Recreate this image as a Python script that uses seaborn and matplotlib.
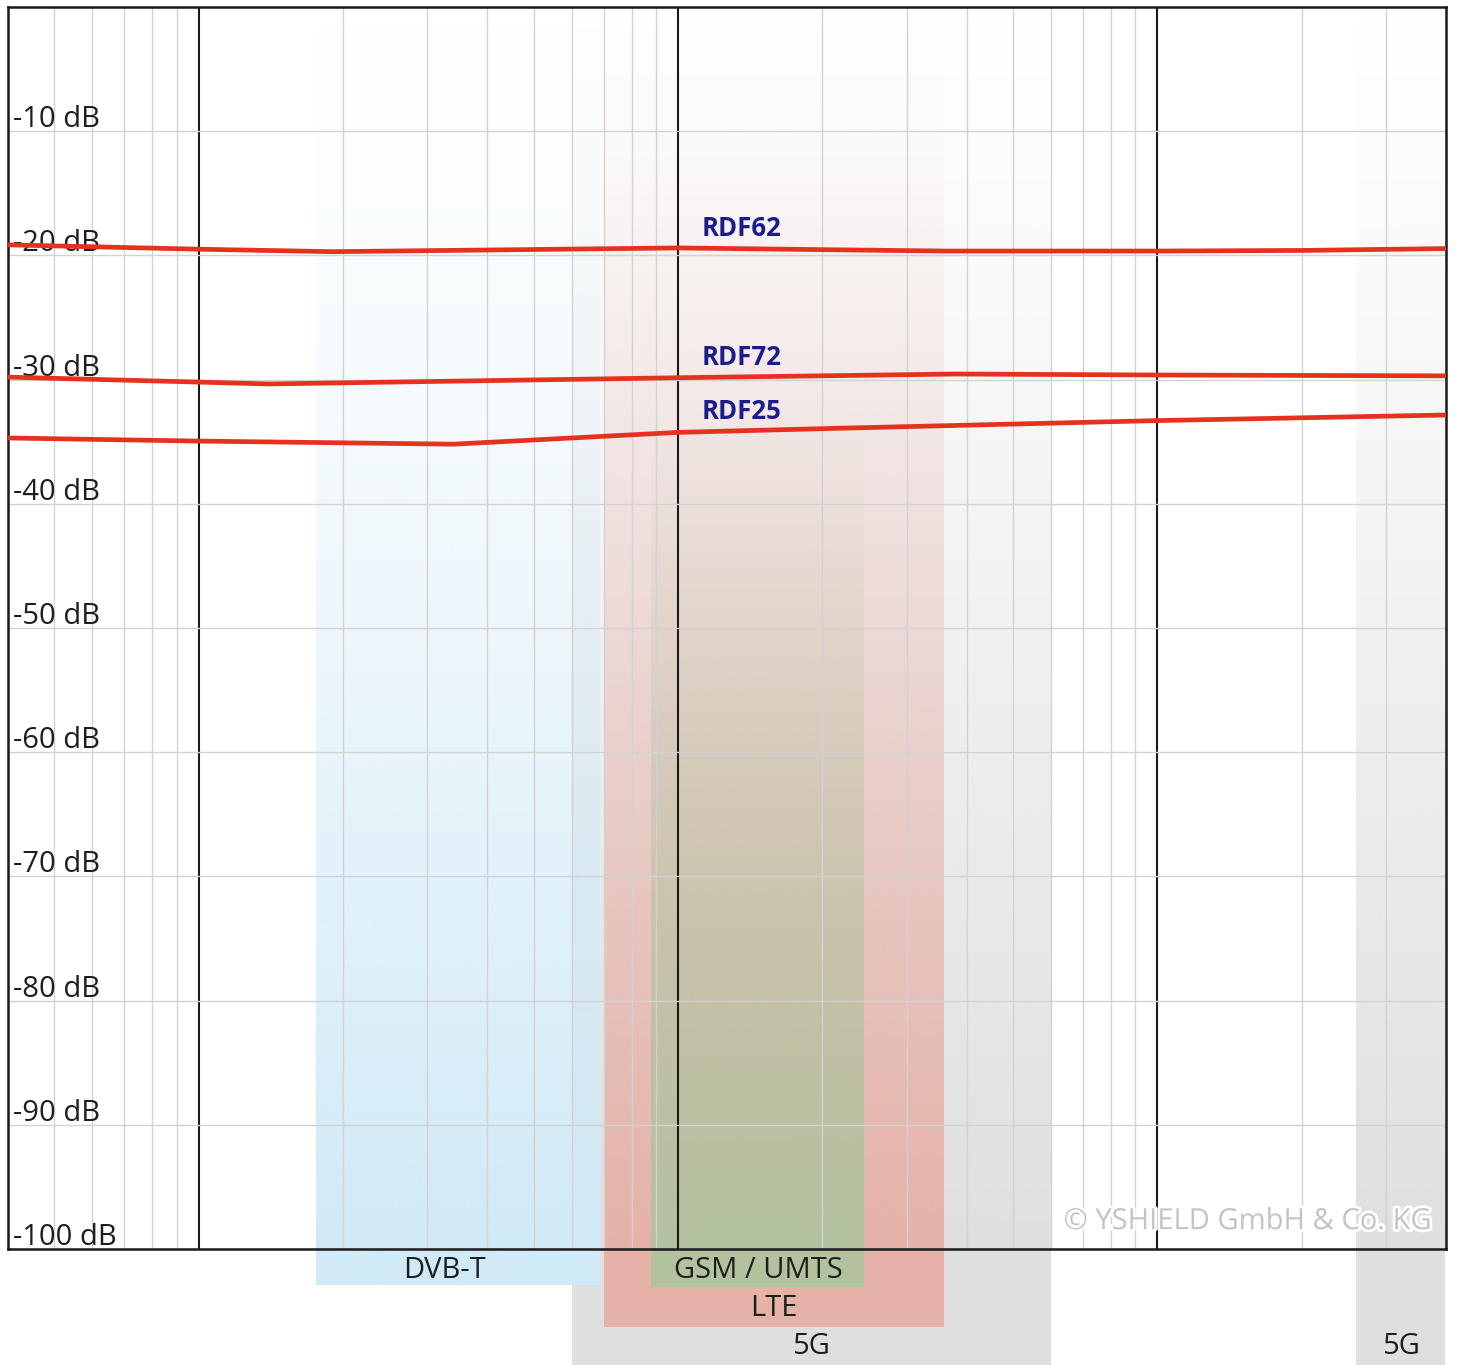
import numpy as np
import pandas as pd
import matplotlib
matplotlib.use("Agg")
import matplotlib.pyplot as plt
import matplotlib.transforms as mtransforms
import matplotlib.patheffects as pe
from matplotlib.colors import to_rgb
import seaborn as sns

# ---------------- data ----------------
series_names = ["RDF62", "RDF72", "RDF25"]
freq_rdf62_mhz = [40, 100, 190, 1000, 3600, 10000, 20000, 40000]
db_rdf62 = [-19.15, -19.5, -19.7, -19.4, -19.65, -19.65, -19.6, -19.45]
freq_rdf72_mhz = [40, 100, 140, 1000, 3800, 10000, 40000]
db_rdf72 = [-29.8, -30.2, -30.35, -29.85, -29.55, -29.63, -29.7]
freq_rdf25_mhz = [40, 100, 340, 1000, 2000, 10000, 40000]
db_rdf25 = [-34.7, -34.95, -35.2, -34.25, -33.95, -33.3, -32.85]

band_names = ["5G", "5G", "LTE", "GSM / UMTS", "DVB-T"]
band_lo_mhz = [600, 26000, 700, 880, 176]
band_hi_mhz = [6000, 40000, 3600, 2450, 690]

y_ticks_db = [-10, -20, -30, -40, -50, -60, -70, -80, -90, -100]
y_tick_labels = ["-10 dB", "-20 dB", "-30 dB", "-40 dB", "-50 dB",
                 "-60 dB", "-70 dB", "-80 dB", "-90 dB", "-100 dB"]
watermark = "\u00a9 YSHIELD GmbH & Co. KG"

# ---------------- styles / layout ----------------
band_colors = ["#dfdfdf", "#dfdfdf", "#e6b2a8", "#b2c29e", "#d0eaf7"]
band_fade_top_px = [8, 8, 8, 420, 8]            # where the vertical gradient starts
band_gamma = [1.2, 1.2, 1.4, 1.2, 1.35]
band_bottom_px = [1365, 1365, 1327, 1287, 1285]  # how far the band extends below the plot
band_label_y_px = [1347, 1347, 1308, 1270, 1270]
band_label_x_mhz = [None, None, None, None, 325]

W, H = 1467, 1365
AX_L, AX_R, AX_T, AX_B = 8, 1446, 7, 1249
F_MIN, F_MAX = 40, 40000
line_color = "#e5321f"
label_color = "#1b1b8c"
text_color = "#1e1e1e"

sns.set_style("white")
plt.rcParams["font.family"] = ["Open Sans", "DejaVu Sans"]

fig = plt.figure(figsize=(W / 100, H / 100), dpi=100)

# background axes (pixel y, log-frequency x aligned with main axes)
ax_bg = fig.add_axes([0, 0, 1, 1])
ax_bg.set_zorder(0)
ppd = (AX_R - AX_L) / (np.log10(F_MAX) - np.log10(F_MIN))
bg_xmin = 10 ** (np.log10(F_MIN) - AX_L / ppd)
bg_xmax = 10 ** (np.log10(F_MAX) + (W - AX_R) / ppd)
ax_bg.set_xscale("log")

for name, lo, hi, col, ftop, g, bot in zip(band_names, band_lo_mhz, band_hi_mhz,
                                           band_colors, band_fade_top_px, band_gamma,
                                           band_bottom_px):
    top = 8
    ys = np.arange(top, bot + 1)
    t = np.clip((ys - ftop) / (AX_B - ftop), 0, 1) ** g
    rgba = np.zeros((len(ys), 1, 4))
    rgba[:, 0, :3] = to_rgb(col)
    rgba[:, 0, 3] = t
    ax_bg.imshow(rgba, extent=(lo, hi, bot, top), origin="upper",
                 aspect="auto", interpolation="bilinear", zorder=1)

for name, lo, hi, ly, lx in zip(band_names, band_lo_mhz, band_hi_mhz,
                                band_label_y_px, band_label_x_mhz):
    cx = lx if lx is not None else np.sqrt(lo * hi)
    ax_bg.text(cx, ly, name, ha="center", va="center", fontsize=21,
               color=text_color, zorder=5)

ax_bg.set_xlim(bg_xmin, bg_xmax)
ax_bg.set_ylim(H, 0)
ax_bg.axis("off")

# main axes
ax = fig.add_axes([AX_L / W, (H - AX_B) / H, (AX_R - AX_L) / W, (AX_B - AX_T) / H])
ax.set_zorder(2)
ax.patch.set_alpha(0)

df = pd.concat([
    pd.DataFrame({"freq": freq_rdf62_mhz, "db": db_rdf62, "series": "RDF62"}),
    pd.DataFrame({"freq": freq_rdf72_mhz, "db": db_rdf72, "series": "RDF72"}),
    pd.DataFrame({"freq": freq_rdf25_mhz, "db": db_rdf25, "series": "RDF25"}),
], ignore_index=True)

ax.set_xscale("log")
sns.lineplot(data=df, x="freq", y="db", hue="series",
             palette={n: line_color for n in series_names},
             linewidth=3.4, legend=False, ax=ax, zorder=4)

ax.set_xlim(F_MIN, F_MAX)
ax.set_ylim(-100, 0)
ax.set_yticks(y_ticks_db)
ax.set_xlabel("")
ax.set_ylabel("")
ax.tick_params(which="both", length=0, labelbottom=False, labelleft=False)

ax.grid(True, which="major", axis="x", color="#1a1a1a", lw=1.5, zorder=1)
ax.grid(True, which="minor", axis="x", color="#d2d2d2", lw=1.0, zorder=1)
ax.grid(True, which="major", axis="y", color="#d2d2d2", lw=1.0, zorder=1)
ax.set_axisbelow(True)

for sp in ax.spines.values():
    sp.set_visible(True)
    sp.set_color("#1a1a1a")
    sp.set_linewidth(1.8)

# y labels inside the plot, just above each gridline
blend = mtransforms.blended_transform_factory(ax.transAxes, ax.transData)
lab_tr = mtransforms.offset_copy(blend, fig=fig, x=5, y=4, units="dots")
for v, lab in zip(y_ticks_db, y_tick_labels):
    ax.text(0.0, v, lab, transform=lab_tr, ha="left", va="baseline",
            fontsize=21, color=text_color, zorder=1)

# series labels
label_f = 1120
for name, fr, db in zip(series_names,
                        [freq_rdf62_mhz, freq_rdf72_mhz, freq_rdf25_mhz],
                        [db_rdf62, db_rdf72, db_rdf25]):
    yv = np.interp(np.log10(label_f), np.log10(fr), db)
    ax.text(label_f, yv + 1.6, name, ha="left", va="center", fontsize=18.5,
            fontweight="bold", color=label_color, zorder=5)

# watermark
ax.text(0.99, 0.022, watermark, transform=ax.transAxes, ha="right", va="center",
        fontsize=21, color="#c4c4c4", zorder=6,
        path_effects=[pe.withStroke(linewidth=4, foreground="white")])

fig.savefig("out.png", dpi=100)
